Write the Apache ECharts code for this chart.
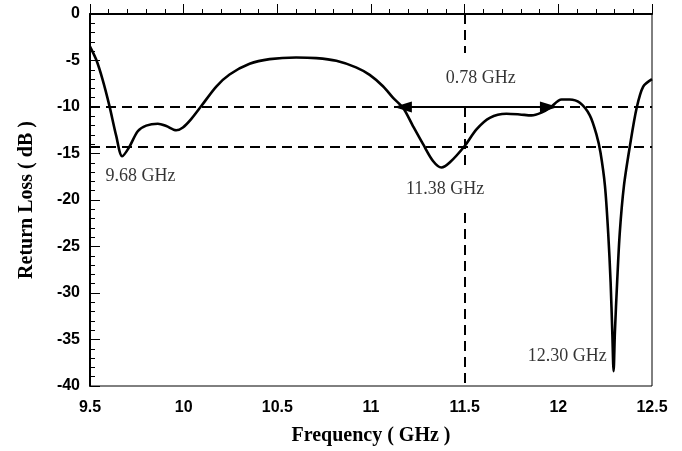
<!DOCTYPE html>
<html>
<head>
<meta charset="utf-8">
<script src="https://cdn.jsdelivr.net/npm/echarts@6/dist/echarts.min.js"></script>
<style>
  html, body { margin: 0; padding: 0; background: #fff; }
  #chart { width: 682px; height: 451px; }
</style>
</head>
<body>
<div id="chart"></div>
<script>
// Measured return loss (dB) versus frequency (GHz)
const freqGHz = [
  9.500, 9.533, 9.568, 9.604, 9.640, 9.672, 9.707, 9.755, 9.800, 9.862,
  9.907, 9.960, 9.996, 10.040, 10.094, 10.174, 10.245, 10.352, 10.459, 10.600,
  10.708, 10.815, 10.920, 10.993, 11.064, 11.118, 11.171, 11.224, 11.278, 11.331,
  11.376, 11.420, 11.500, 11.563, 11.634, 11.723, 11.794, 11.857, 11.910, 11.955,
  12.017, 12.060, 12.115, 12.168, 12.204, 12.225, 12.249, 12.266, 12.279, 12.288,
  12.295, 12.302, 12.314, 12.328, 12.350, 12.382, 12.418, 12.453, 12.500
];
const returnLossDb = [
  -3.5, -4.9, -7.1, -9.9, -13.1, -15.3, -14.4, -12.6, -12.0, -11.8,
  -12.05, -12.5, -12.2, -11.3, -9.9, -7.8, -6.5, -5.35, -4.85, -4.67,
  -4.74, -5.03, -5.74, -6.55, -7.77, -9.02, -10.09, -12.05, -14.0, -15.8,
  -16.5, -15.97, -14.19, -12.4, -11.16, -10.73, -10.8, -10.9, -10.6, -10.09,
  -9.2, -9.2, -9.55, -10.9, -13.0, -14.9, -18.5, -23.5, -28.8, -34.2,
  -38.4, -34.2, -28.8, -23.5, -18.5, -14.2, -10.1, -7.8, -7.0
];

// Reference levels and bandwidth marker
const refLevelsDb = [-10, -14.3];
const centerFreqGHz = 11.5;
const bandEdgesGHz = [11.17, 11.95];

// Annotation texts placed in data coordinates
const noteText = ['9.68 GHz', '11.38 GHz', '0.78 GHz', '12.30 GHz'];
const noteFreq = [9.77, 11.396, 11.586, 12.048];
const noteDb = [-17.4, -18.8, -6.95, -36.8];

const serif = '"Liberation Serif", "DejaVu Serif", serif';
const sans = '"Liberation Sans", Arial, sans-serif';

const dashStyle = { color: '#000', width: 2, type: [10, 6] };

const chart = echarts.init(document.getElementById('chart'));
chart.setOption({
  animation: false,
  backgroundColor: '#fff',
  grid: {
    left: 90, right: 30, top: 14, bottom: 63,
    show: true, borderColor: '#000', borderWidth: 1, backgroundColor: 'transparent'
  },
  xAxis: {
    type: 'value', min: 9.5, max: 12.5, interval: 0.5,
    name: 'Frequency ( GHz )', nameLocation: 'middle', nameGap: 40,
    nameTextStyle: { fontFamily: serif, fontWeight: 'bold', fontSize: 20, color: '#000' },
    axisLine: { lineStyle: { color: '#000', width: 2 } },
    axisTick: { inside: true, length: 10, lineStyle: { color: '#000', width: 1 } },
    minorTick: { show: true, splitNumber: 5, length: 5, lineStyle: { color: '#000', width: 1 } },
    splitLine: { show: false },
    axisLabel: { fontFamily: sans, fontWeight: 'bold', fontSize: 16, color: '#000', margin: 14 }
  },
  yAxis: {
    type: 'value', min: -40, max: 0, interval: 5,
    name: 'Return Loss ( dB )', nameLocation: 'middle', nameGap: 53,
    nameTextStyle: { fontFamily: serif, fontWeight: 'bold', fontSize: 20, color: '#000' },
    axisLine: { show: true, lineStyle: { color: '#000', width: 2 } },
    axisTick: { show: true, inside: true, length: 10, lineStyle: { color: '#000', width: 1 } },
    minorTick: { show: true, splitNumber: 5, length: 5, lineStyle: { color: '#000', width: 1 } },
    splitLine: { show: false },
    axisLabel: { fontFamily: sans, fontWeight: 'bold', fontSize: 16, color: '#000', margin: 10 }
  },
  series: [
    {
      name: 'Return Loss',
      type: 'line',
      data: freqGHz.map((f, i) => [f, returnLossDb[i]]),
      showSymbol: false,
      smooth: 0.3,
      lineStyle: { color: '#000', width: 2.6 },
      z: 5,
      markLine: {
        silent: true,
        symbol: 'none',
        label: { show: false },
        lineStyle: dashStyle,
        data: [
          ...refLevelsDb.map(v => ({ yAxis: v })),
          [{ coord: [centerFreqGHz, 0] }, { coord: [centerFreqGHz, -4.2] }],
          [{ coord: [centerFreqGHz, -10] }, { coord: [centerFreqGHz, -16.4] }],
          [{ coord: [centerFreqGHz, -21.4] }, { coord: [centerFreqGHz, -40] }]
        ]
      }
    },
    {
      name: 'Bandwidth',
      type: 'line',
      data: [],
      markLine: {
        silent: true,
        symbol: ['triangle', 'triangle'],
        symbolSize: [11, 18],
        label: { show: false },
        lineStyle: { color: '#000', width: 2, type: 'solid' },
        itemStyle: { color: '#000' },
        data: [[{ coord: [bandEdgesGHz[0], refLevelsDb[0]] }, { coord: [bandEdgesGHz[1], refLevelsDb[0]] }]]
      },
      z: 6
    },
    {
      name: 'Notes',
      type: 'scatter',
      symbolSize: 0,
      silent: true,
      data: noteText.map((t, i) => ({ value: [noteFreq[i], noteDb[i]], name: t })),
      label: {
        show: true,
        position: 'inside',
        formatter: p => p.name,
        fontFamily: serif,
        fontSize: 18,
        color: '#000',
        textBorderWidth: 0
      },
      z: 7
    }
  ]
});
</script>
</body>
</html>
